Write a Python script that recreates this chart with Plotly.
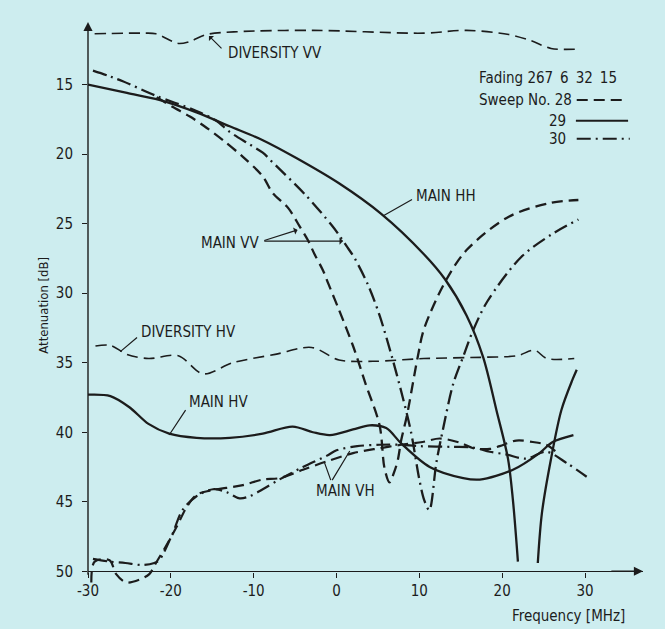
import plotly.graph_objects as go

# ---------------- data ----------------
# Diversity VV (sweep 28, thin dashed)
div_vv_f = [-29.2, -23.2, -21.8, -19.8, -19.0, -17.7, -15.7, -12.0, -2.8, 10.55, 15.7, 20.8, 23.5, 25.9, 29.2]
div_vv_a = [11.35, 11.3, 11.35, 11.9, 12.05, 11.9, 11.4, 11.2, 11.1, 11.3, 11.1, 11.4, 11.85, 12.4, 12.45]

# Main HH (sweep 29, solid)
hh_f = [-30, -25.3, -21.4, -16.9, -12.9, -8.9, -4.8, 0.3, 5.4, 10.55, 13.1, 15.7, 17.7, 19.3, 20.7, 21.3, 21.9,
        None, 24.3, 24.8, 25.9, 27.15, 28.5, 29.0]
hh_a = [15.0, 15.6, 16.1, 17.0, 18.0, 19.0, 20.3, 22.1, 24.3, 27.2, 29.0, 31.6, 34.6, 38.4, 41.9, 44.9, 49.3,
        None, 49.4, 45.8, 41.9, 38.4, 36.2, 35.5]

# Main VV (sweep 28, dashed)
vv28_f = [-21.7, -19.8, -17.7, -15.7, -13.7, -11.3, -8.9, -7.7, -5.8, -4.45, -3.45, -2.65, -1.6, -1.0, 0.3, 2.0,
          3.5, 5.2, 5.8, 6.4, 7.0, 7.4, 7.8, 8.5, 9.8, 10.55, 13.1, 15.7, 20.8, 25.9, 29.2]
vv28_a = [15.9, 16.6, 17.3, 18.1, 19.0, 20.2, 21.6, 22.8, 23.9, 25.2, 26.2, 27.2, 28.4, 29.3, 31.2, 33.8,
          36.5, 39.5, 42.6, 43.6, 42.8, 42.0, 40.6, 38.8, 34.6, 32.6, 29.2, 26.9, 24.5, 23.5, 23.3]

# Main VV (sweep 30, dash-dot)
vv30_f = [-29.4, -27.4, -25.8, -21.8, -16.9, -14.5, -12.9, -10.5, -8.9, -7.7, -3.8, -0.6, 0.4, 1.2, 2.2, 3.8,
          5.2, 6.7, 8.0, 9.0, 10.0, 10.6, 11.2, 12.05, 12.85, 14.1, 15.4, 16.4, 18.2, 22.3, 25.9, 29.2]
vv30_a = [14.0, 14.4, 14.76, 15.8, 16.9, 17.6, 18.4, 19.3, 19.9, 20.6, 22.9, 25.1, 25.9, 26.6, 27.5, 29.4,
          31.6, 34.6, 37.5, 40.0, 43.4, 44.9, 45.6, 42.2, 39.8, 36.5, 34.4, 32.8, 30.6, 27.4, 25.8, 24.7]

# Diversity HV (sweep 28, thin dashed)
div_hv_f = [-29.1, -27.3, -25.3, -22.7, -19.1, -16.1, -12.5, -7.4, -3.0, 0.3, 4.4, 10.55, 18.2, 21.8, 23.9, 25.4, 28.7]
div_hv_a = [33.8, 33.75, 34.4, 34.7, 34.5, 35.8, 35.0, 34.4, 33.9, 34.8, 34.9, 34.7, 34.6, 34.5, 34.1, 34.7, 34.7]

# Main HV (sweep 29, solid)
hv_f = [-30, -27.3, -25.0, -22.7, -20.2, -16.9, -12.9, -8.9, -5.3, -2.85, -0.8, 2.0, 4.0, 6.0, 7.8, 11.25,
        15.3, 17.3, 21.3, 24.5, 26.1, 28.6]
hv_a = [37.3, 37.4, 38.2, 39.4, 40.1, 40.4, 40.4, 40.1, 39.6, 40.0, 40.2, 39.8, 39.5, 39.7, 40.8, 42.5,
        43.3, 43.4, 42.7, 41.5, 40.7, 40.2]

# Main VH (sweep 28, dashed)
vh28_f = [-29.6, -29.2, -27.4, -26.6, -25.4, -23.8, -22.6, -21.8, -20.6, -19.3, -18.1, -16.9, -15.3, -13.3,
          -11.3, -8.9, -6.9, -4.05, -1.2, 2.0, 5.2, 7.8, 10.4, 12.45, 14.9, 16.5, 18.5, 19.7, 21.7, 23.7, 25.3, 26.5]
vh28_a = [50.8, 49.3, 49.2, 50.2, 50.8, 50.6, 50.2, 49.4, 48.2, 46.8, 45.4, 44.5, 44.2, 44.0,
          43.8, 43.4, 43.3, 42.7, 42.1, 41.5, 41.15, 40.9, 40.7, 40.45, 40.75, 41.15, 41.2, 41.0, 40.6, 40.7, 40.9, 41.4]

# Main VH (sweep 30, dash-dot)
vh30_f = [-29.4, -27.4, -25.5, -23.4, -22.0, -21.4, -19.8, -18.6, -16.9, -14.9, -13.3, -11.7, -10.5, -8.9,
          -6.9, -4.05, -1.2, 0.0, 2.5, 5.2, 7.6, 10.0, 14.0, 16.5, 18.5, 20.5, 22.9, 25.3, 27.75, 30.2]
vh30_a = [49.1, 49.3, 49.4, 49.55, 49.4, 49.2, 47.3, 45.6, 44.6, 44.1, 44.3, 44.75, 44.6, 44.1,
          43.4, 42.5, 41.7, 41.3, 41.0, 40.9, 40.9, 41.0, 41.05, 41.1, 41.4, 41.6, 41.9, 41.4, 42.2, 43.2]

x_ticks = [-30, -20, -10, 0, 10, 20, 30]
y_ticks = [15, 20, 25, 30, 35, 40, 45, 50]

sweeps = ["28", "29", "30"]
legend_title = "Fading 267\u2009 6\u2009 32\u2009 15"

# ---------------- styling ----------------
BG = "#cdedef"
INK = "#1c1c1c"
FONT = "DejaVu Sans Condensed, Liberation Sans Narrow, DejaVu Sans, sans-serif"
DASH28 = "11px,6px"
DASH30 = "14px,5px,2px,5px"

X_RANGE = [-30, 37]
Y_RANGE = [51.2, 10.5]
AXIS_Y = 50  # x axis drawn at 50 dB

fig = go.Figure()


def add_line(f, a, dash, width):
    fig.add_trace(go.Scatter(x=f, y=a, mode="lines", hoverinfo="skip", showlegend=False,
                             connectgaps=False,
                             line=dict(color=INK, width=width, dash=dash, shape="spline", smoothing=0.9)))


add_line(div_vv_f, div_vv_a, DASH28, 1.6)
add_line(div_hv_f, div_hv_a, DASH28, 1.6)
add_line(hh_f, hh_a, "solid", 2.3)
add_line(hv_f, hv_a, "solid", 2.3)
add_line(vv28_f, vv28_a, DASH28, 2.3)
add_line(vv30_f, vv30_a, DASH30, 2.3)
add_line(vh28_f, vh28_a, DASH28, 2.2)
add_line(vh30_f, vh30_a, DASH30, 2.2)

anns = []


def text(x, y, s, anchor="left", size=15):
    anns.append(dict(x=x, y=y, xref="x", yref="y", text=s, showarrow=False, xanchor=anchor,
                     yanchor="middle", font=dict(family=FONT, size=size, color=INK)))


def leader(x0, y0, x1, y1, head=0, width=1.2):
    anns.append(dict(x=x1, y=y1, ax=x0, ay=y0, xref="x", yref="y", axref="x", ayref="y", text="",
                     showarrow=True, arrowhead=head, arrowsize=1, arrowwidth=width, arrowcolor=INK))


# curve labels
text(-13.4, 12.75, "DIVERSITY VV")
leader(-13.7, 12.5, -15.4, 11.5, head=1)
text(9.4, 23.0, "MAIN HH")
leader(9.3, 23.2, 5.6, 24.45)
text(-16.6, 26.4, "MAIN VV")
leader(-8.9, 26.25, -4.7, 25.45, head=1)
leader(-8.9, 26.25, 0.8, 26.25, head=1)
text(-23.8, 32.8, "DIVERSITY HV")
leader(-23.9, 33.1, -26.1, 34.2)
text(-18.1, 37.8, "MAIN HV")
leader(-18.1, 38.3, -20.2, 40.2)
text(-2.7, 44.25, "MAIN VH")
leader(-0.63, 43.55, -1.44, 42.2)
leader(-0.63, 43.55, 1.6, 41.35)

# legend block
text(16.9, 14.5, legend_title)
text(16.9, 16.1, "Sweep No. " + sweeps[0])
text(28.0, 17.6, sweeps[1], anchor="right")
text(28.0, 18.9, sweeps[2], anchor="right")

shapes = [
    dict(type="line", xref="x", yref="y", x0=29.0, x1=35.0, y0=16.1, y1=16.1,
         line=dict(color=INK, width=2, dash=DASH28)),
    dict(type="line", xref="x", yref="y", x0=28.9, x1=35.2, y0=17.6, y1=17.6,
         line=dict(color=INK, width=2)),
    dict(type="line", xref="x", yref="y", x0=29.0, x1=35.4, y0=18.9, y1=18.9,
         line=dict(color=INK, width=2, dash=DASH30)),
]

# axis arrows (y axis line drawn as an arrow from just below the x axis up to the top)
anns.append(dict(x=X_RANGE[1], y=AXIS_Y, ax=X_RANGE[1] - 4, ay=AXIS_Y, xref="x", yref="y", axref="x",
                 ayref="y", text="", showarrow=True, arrowhead=2, arrowsize=1.3, arrowwidth=1.4,
                 arrowcolor=INK))
anns.append(dict(x=X_RANGE[0], y=Y_RANGE[1], ax=X_RANGE[0], ay=AXIS_Y + 0.35, xref="x", yref="y",
                 axref="x", ayref="y", text="", showarrow=True, arrowhead=2, arrowsize=1.3,
                 arrowwidth=1.4, arrowcolor=INK))

# axis titles
anns.append(dict(x=0, xref="paper", xshift=-44, y=30.9, yref="y", text="Attenuation [dB]", textangle=-90,
                 showarrow=False, xanchor="center", yanchor="middle",
                 font=dict(family=FONT, size=13, color=INK)))
anns.append(dict(x=35.1, xref="x", y=-0.05, yref="paper", text="Frequency [MHz]", showarrow=False,
                 xanchor="right", yanchor="middle", font=dict(family=FONT, size=15, color=INK)))

x_axis_pos = (Y_RANGE[0] - AXIS_Y) / (Y_RANGE[0] - Y_RANGE[1])

fig.update_layout(
    width=665, height=629,
    margin=dict(l=88, r=22, t=22, b=41, pad=0),
    paper_bgcolor=BG, plot_bgcolor=BG,
    font=dict(family=FONT, size=15, color=INK),
    showlegend=False,
    annotations=anns,
    shapes=shapes,
    xaxis=dict(range=X_RANGE, tickvals=x_ticks, ticktext=[str(v) for v in x_ticks], ticks="outside",
               ticklen=5, tickwidth=1.3, tickcolor=INK, showgrid=False, zeroline=False, showline=True,
               linecolor=INK, linewidth=1.4, anchor="free", position=x_axis_pos,
               tickfont=dict(family=FONT, size=15, color=INK)),
    yaxis=dict(range=Y_RANGE, tickvals=y_ticks, ticks="outside", ticklen=5, tickwidth=1.3, tickcolor=INK,
               showgrid=False, zeroline=False, showline=False,
               ticklabelstandoff=6, tickfont=dict(family=FONT, size=15, color=INK)),
)

fig.write_html(
    "out.html",
    config={"displayModeBar": False},
    post_script=("document.body.style.margin='0px';document.body.style.overflow='hidden';"
                 "document.body.style.backgroundColor='" + BG + "';"),
)
